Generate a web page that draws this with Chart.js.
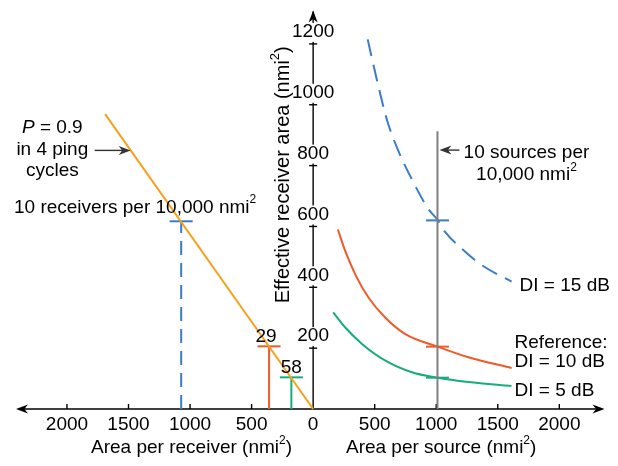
<!DOCTYPE html>
<html>
<head>
<meta charset="utf-8">
<script src="https://cdn.jsdelivr.net/npm/chart.js@4"></script>
<style>
  html, body { margin: 0; padding: 0; background: #fff; }
  #wrap { width: 618px; height: 466px; }
</style>
</head>
<body>
<div id="wrap"><canvas id="myChart" width="618" height="466"></canvas></div>
<script>
// receivers side (negative x = area per receiver)
var detectArea = [-1690, 0]
var detectEff = [969, 0]
var recvArea = [-1072, -358, -177]
var recvEff = [617, 206, 104]
var recvLabels = ["10 receivers per 10,000 nmi", "29", "58"]

// sources side
var di15Area = [443, 519, 600, 694, 802, 937, 1010, 1072, 1207, 1369, 1612]
var di15Eff = [1215, 1080, 950, 847, 755, 657, 622, 582, 527, 473, 419]
var di10Area = [201, 263, 344, 452, 587, 749, 1010, 1261, 1612]
var di10Eff = [590, 517, 441, 365, 300, 246, 205, 170, 135]
var di5Area = [163, 263, 397, 587, 802, 1010, 1261, 1612]
var di5Eff = [318, 267, 214, 159, 121, 103, 89, 76]
var srcArea = 1010
var srcEff = [620, 205, 103]
var srcLineTop = 913

var xTicks = [-2000, -1500, -1000, -500, 0, 500, 1000, 1500, 2000]
var yTicks = [200, 400, 600, 800, 1000, 1200]

var ORANGE = "#f6a11c", BLUE = "#3a7dc6", RED = "#f05a2a", GREEN = "#17ad78", GRAY = "#808080"
var FONT = "'Liberation Sans', Arial, sans-serif"
var FS = 19

function pts(xs, ys) {
    var out = []
    for (var i = 0; i < xs.length; i++) out.push({x: xs[i], y: ys[i]})
    return out
}

function line(data, color, dash, extra) {
    var ds = {
        data: data, showLine: true, borderColor: color, borderWidth: 2,
        pointRadius: 0, fill: false, borderDash: dash || [], clip: false
    }
    for (var k in extra) ds[k] = extra[k]
    return ds
}

// text with optional superscript / italic segments
function rich(ctx, segs, x, y, align, size) {
    size = size || FS
    var w = 0
    var fnt = function(s) { return (s.it ? "italic " : "") + (s.sup ? Math.round(size * 0.64) : size) + "px " + FONT }
    segs.forEach(function(s) {
        ctx.font = fnt(s)
        s.w = ctx.measureText(s.t).width
        w += s.w
    })
    var cx = align === "center" ? x - w / 2 : (align === "right" ? x - w : x)
    ctx.textAlign = "left"
    ctx.textBaseline = "middle"
    segs.forEach(function(s) {
        ctx.font = fnt(s)
        ctx.fillText(s.t, cx, s.sup ? y - size * 0.38 : y)
        cx += s.w
    })
    return w
}

function arrowHead(ctx, tx, ty, ang, len, half) {
    ctx.save()
    ctx.translate(tx, ty)
    ctx.rotate(ang)
    ctx.beginPath()
    ctx.moveTo(0, 0)
    ctx.lineTo(-len, -half)
    ctx.lineTo(-len * 0.7, 0)
    ctx.lineTo(-len, half)
    ctx.closePath()
    ctx.fill()
    ctx.restore()
}

var overlay = {
    id: "overlay",
    beforeDatasetsDraw: function(chart) {
        var ctx = chart.ctx, a = chart.chartArea
        var X = function(v) { return chart.scales.x.getPixelForValue(v) }
        var Y = function(v) { return chart.scales.y.getPixelForValue(v) }
        var x0 = X(0), y0 = Y(0)
        ctx.save()
        ctx.strokeStyle = "#000"
        ctx.fillStyle = "#000"
        ctx.lineWidth = 1.4
        // x axis
        ctx.beginPath()
        ctx.moveTo(a.left + 4, y0)
        ctx.lineTo(a.right - 4, y0)
        ctx.stroke()
        arrowHead(ctx, a.left, y0, Math.PI, 12, 4.5)
        arrowHead(ctx, a.right, y0, 0, 12, 4.5)
        xTicks.forEach(function(v) {
            if (v === 0) return
            ctx.beginPath()
            ctx.moveTo(X(v), y0)
            ctx.lineTo(X(v), y0 - 5)
            ctx.stroke()
        })
        // y axis
        ctx.beginPath()
        ctx.moveTo(x0, y0)
        ctx.lineTo(x0, a.top - 2)
        ctx.stroke()
        arrowHead(ctx, x0, a.top - 3, -Math.PI / 2, 12, 4.5)
        yTicks.forEach(function(v) {
            ctx.beginPath()
            ctx.moveTo(x0 - 4, Y(v))
            ctx.lineTo(x0 + 4, Y(v))
            ctx.stroke()
        })
        ctx.restore()
    },
    afterDatasetsDraw: function(chart) {
        var ctx = chart.ctx
        var X = function(v) { return chart.scales.x.getPixelForValue(v) }
        var Y = function(v) { return chart.scales.y.getPixelForValue(v) }
        var x0 = X(0), y0 = Y(0)
        ctx.save()
        ctx.fillStyle = "#000"
        ctx.font = FS + "px " + FONT
        ctx.textAlign = "center"
        ctx.textBaseline = "middle"
        // x tick labels
        xTicks.forEach(function(v) {
            ctx.fillText(String(Math.abs(v)), X(v), y0 + 16)
        })
        // y tick labels sit over the axis just above their tick
        yTicks.forEach(function(v) {
            var w = ctx.measureText(String(v)).width
            ctx.fillStyle = "#fff"
            ctx.fillRect(x0 - w / 2 - 1, Y(v) - 21, w + 2, 19)
            ctx.fillStyle = "#000"
            ctx.fillText(String(v), x0, Y(v) - 12)
        })
        // axis titles
        rich(ctx, [{t: "Area per receiver (nmi"}, {t: "2", sup: true}, {t: ")"}], X(-988), y0 + 39, "center")
        rich(ctx, [{t: "Area per source (nmi"}, {t: "2", sup: true}, {t: ")"}], X(1040), y0 + 39, "center")
        ctx.save()
        ctx.translate(x0 - 30, Y(770))
        ctx.rotate(-Math.PI / 2)
        rich(ctx, [{t: "Effective receiver area (nmi"}, {t: "2", sup: true}, {t: ")"}], 0, 0, "center", 20)
        ctx.restore()

        // left annotations
        var lx = X(-2119)
        rich(ctx, [{t: "P", it: true}, {t: " = 0.9"}], lx, Y(923), "center")
        rich(ctx, [{t: "in 4 ping"}], lx, Y(851), "center")
        rich(ctx, [{t: "cycles"}], lx, Y(783), "center")
        var tipX = detectArea[0] * 850 / detectEff[0]
        ctx.strokeStyle = "#333"
        ctx.fillStyle = "#333"
        ctx.lineWidth = 1.4
        ctx.beginPath()
        ctx.moveTo(X(-1775), Y(850))
        ctx.lineTo(X(tipX) - 6, Y(850))
        ctx.stroke()
        arrowHead(ctx, X(tipX), Y(850), 0, 12, 4.5)
        ctx.fillStyle = "#000"
        rich(ctx, [{t: recvLabels[0]}, {t: "2", sup: true}], 14, Y(recvEff[0]) - 14, "left")
        rich(ctx, [{t: recvLabels[1]}], X(recvArea[1]) - 3, Y(recvEff[1]) - 10, "center")
        rich(ctx, [{t: recvLabels[2]}], X(recvArea[2]), Y(recvEff[2]) - 10, "center")

        // right annotations
        var sx = X(srcArea)
        ctx.strokeStyle = "#333"
        ctx.fillStyle = "#333"
        ctx.beginPath()
        ctx.moveTo(sx + 22, Y(851))
        ctx.lineTo(sx + 8, Y(851))
        ctx.stroke()
        arrowHead(ctx, sx + 2, Y(851), Math.PI, 12, 4.5)
        ctx.fillStyle = "#000"
        rich(ctx, [{t: "10 sources per"}], sx + 89, Y(851) + 3, "center")
        rich(ctx, [{t: "10,000 nmi"}, {t: "2", sup: true}], sx + 89, Y(851) + 25, "center")

        var e15 = di15Area.length - 1, e10 = di10Area.length - 1, e5 = di5Area.length - 1
        rich(ctx, [{t: "DI = 15 dB"}], X(di15Area[e15]) + 8, Y(di15Eff[e15]) + 4, "left")
        rich(ctx, [{t: "Reference:"}], X(di10Area[e10]) + 3, Y(di10Eff[e10]) - 25, "left")
        rich(ctx, [{t: "DI = 10 dB"}], X(di10Area[e10]) + 3, Y(di10Eff[e10]) - 6, "left")
        rich(ctx, [{t: "DI = 5 dB"}], X(di5Area[e5]) + 3, Y(di5Eff[e5]) + 5, "left")
        ctx.restore()
    }
}

var markerPts = []
var markerCols = []
var cols = [BLUE, RED, GREEN]
for (var i = 0; i < 3; i++) {
    markerPts.push({x: recvArea[i], y: recvEff[i]})
    markerCols.push(cols[i])
    markerPts.push({x: srcArea, y: srcEff[i]})
    markerCols.push(cols[i])
}

var ctx = document.getElementById("myChart").getContext("2d")
var chart = new Chart(ctx, {
    type: "scatter",
    data: {
        datasets: [
            line([{x: srcArea, y: 0}, {x: srcArea, y: srcLineTop}], GRAY),
            line(pts(detectArea, detectEff), ORANGE),
            line([{x: recvArea[0], y: 0}, {x: recvArea[0], y: recvEff[0]}], BLUE, [14, 8]),
            line([{x: recvArea[1], y: 0}, {x: recvArea[1], y: recvEff[1]}], RED),
            line([{x: recvArea[2], y: 0}, {x: recvArea[2], y: recvEff[2]}], GREEN),
            line(pts(di15Area, di15Eff), BLUE, [17, 9], {cubicInterpolationMode: "monotone"}),
            line(pts(di10Area, di10Eff), RED, [], {cubicInterpolationMode: "monotone"}),
            line(pts(di5Area, di5Eff), GREEN, [], {cubicInterpolationMode: "monotone"}),
            {
                data: markerPts, showLine: false, pointStyle: "line", pointRadius: 11.5,
                pointBorderWidth: 2, pointBorderColor: markerCols, pointRotation: 0, clip: false
            }
        ]
    },
    options: {
        responsive: false,
        animation: false,
        devicePixelRatio: 1,
        layout: {padding: {left: 16, right: 11, top: 9, bottom: 57}},
        plugins: {legend: {display: false}, tooltip: {enabled: false}},
        scales: {
            x: {type: "linear", min: -2414, max: 2367, display: false},
            y: {type: "linear", min: 0, max: 1300, display: false}
        }
    },
    plugins: [overlay]
})
</script>
</body>
</html>
